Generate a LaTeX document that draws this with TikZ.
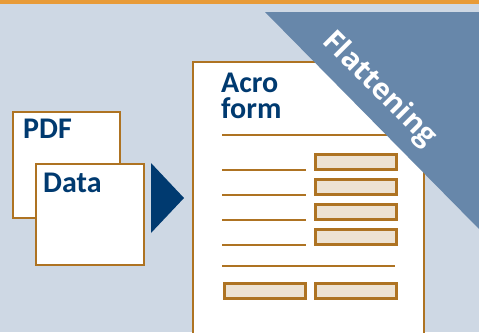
\documentclass[tikz,border=0pt]{standalone}
\usepackage{fontspec}
\setmainfont{Carlito}
\newfontfamily\flatfont{Open Sans}
\definecolor{bg}{HTML}{CED8E4}
\definecolor{topbar}{HTML}{E89B38}
\definecolor{brn}{HTML}{AE7322}
\definecolor{fld}{HTML}{EDE2D2}
\definecolor{navy}{HTML}{003A70}
\definecolor{tri}{HTML}{6787AA}
\tikzset{
  doc/.style={draw=brn, line width=2pt, fill=white},
  fieldbox/.style={draw=brn, line width=2.6pt, fill=fld},
  rule/.style={draw=brn, line width=2pt},
  lbl/.style={font=\fontsize{30}{30}\selectfont\bfseries, text=navy, inner sep=0pt, anchor=base west},
}
\begin{document}
\begin{tikzpicture}[x=1pt,y=-1pt]
\fill[bg] (0,0) rectangle (479,332);
\useasboundingbox (0,0) rectangle (479,332);
\fill[topbar] (0,0) rectangle (479,3.5);
% source docs
\node[doc, minimum width=107pt, minimum height=106pt, anchor=north west, inner sep=0pt] (pdf) at (12,111) {};
\node[lbl] (pdft) at (23,138) {PDF};
\node[doc, minimum width=108pt, minimum height=101pt, anchor=north west, inner sep=0pt] (data) at (35,163) {};
\node[lbl] (datat) at (43,192) {Data};
% arrow
\coordinate (a1) at (151,163);
\coordinate (a2) at (151,233);
\coordinate (a3) at (184,198);
\fill[navy] (a1) -- (a3) -- (a2) -- cycle;
% form
\node[doc, minimum width=231pt, minimum height=300pt, anchor=north west, inner sep=0pt] (form) at (192,61) {};
\node[lbl] (acro) at (221,92) {Acro};
\node[lbl] (formt) at (221,118) {form};
\coordinate (h1) at (222,135); \coordinate (h2) at (395,135);
\draw[rule] (h1) -- (h2);
\foreach \y/\n in {170/1,195/2,220/3,245/4}{
  \coordinate (l\n a) at (222,\y); \coordinate (l\n b) at (306,\y);
  \draw[rule] (l\n a) -- (l\n b);
  \node[fieldbox, minimum width=81pt, minimum height=15pt, inner sep=0pt, anchor=south west] (f\n) at (314,\y+1) {};
}
\coordinate (m1) at (222,266); \coordinate (m2) at (395,266);
\draw[rule] (m1) -- (m2);
\node[fieldbox, minimum width=81pt, minimum height=15pt, inner sep=0pt, anchor=north west] (b1) at (223,282) {};
\node[fieldbox, minimum width=81pt, minimum height=15pt, inner sep=0pt, anchor=north west] (b2) at (314,282) {};
% flattening triangle
\coordinate (t1) at (265,12);
\coordinate (t2) at (479,12);
\coordinate (t3) at (479,229);
\fill[tri] (t1) -- (t2) -- (t3) -- cycle;
\node[font=\flatfont\fontsize{29}{29}\selectfont\bfseries, text=white, rotate=-45, inner sep=0pt, anchor=base] (flat) at (374,95) {Flattening};
\end{tikzpicture}
\end{document}
